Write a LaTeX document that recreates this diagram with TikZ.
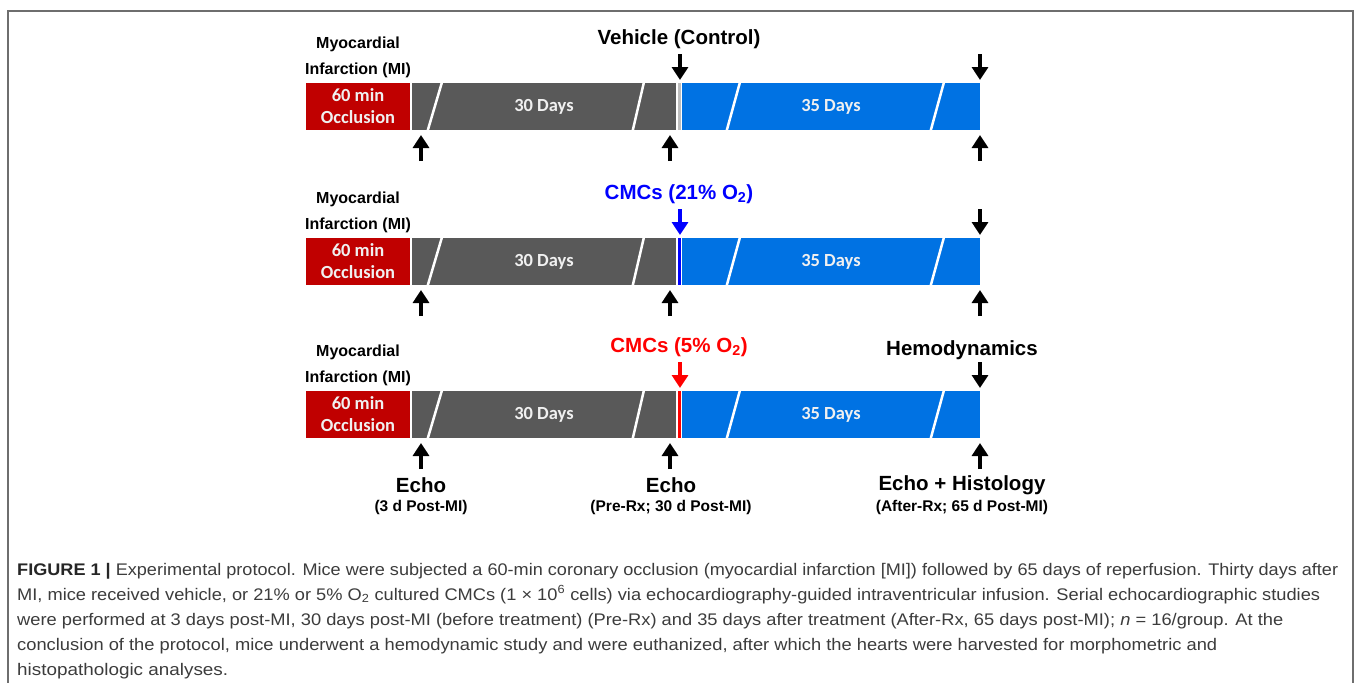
\documentclass[tikz,border=0pt]{standalone}
\usepackage{fontspec}
\usepackage{graphicx}
\setmainfont{Liberation Sans}
\newfontfamily\calfont{Carlito}
\usetikzlibrary{arrows.meta,calc}
\definecolor{mired}{RGB}{192,0,0}
\definecolor{bargray}{RGB}{89,89,89}
\definecolor{barblue}{RGB}{0,114,227}
\definecolor{capgray}{RGB}{60,60,60}
\definecolor{framegray}{RGB}{110,110,110}
\definecolor{stripegray}{RGB}{190,190,190}
\definecolor{cmcblue}{RGB}{0,0,255}
\definecolor{cmcred}{RGB}{255,0,0}
\tikzset{
  lbl/.style={font=\bfseries\fontsize{16}{16}\selectfont, inner sep=0pt},
  biglbl/.style={font=\bfseries\fontsize{20.5}{20.5}\selectfont, inner sep=0pt},
  sublbl/.style={font=\bfseries\fontsize{15.5}{15.5}\selectfont, inner sep=0pt},
  bartxt/.style={font=\calfont\bfseries\fontsize{18.5}{22}\selectfont, text=white!94!black, inner sep=0pt, align=center, minimum height=47pt},
  occbox/.style={bartxt, fill=mired, minimum width=104pt},
  graybar/.style={bartxt, fill=bargray, minimum width=264pt},
  bluebar/.style={bartxt, fill=barblue, minimum width=298pt},
  stripebox/.style={inner sep=0pt, minimum width=3pt, minimum height=47pt},
  slash/.style={white, line width=2.5pt},
  arr/.style={line width=3.6pt, -{Triangle[width=16pt,length=13pt]}},
  capline/.style={anchor=base west, inner sep=0pt, text=capgray, font=\fontsize{16.8}{16.8}\selectfont},
}
\newcommand\protorow[5]{%
  \node[occbox]  (occ#1)   at (358,{#2+23.5}) {60 min\\Occlusion};
  \node[graybar] (gray#1)  at (544,{#2+23.5}) {30 Days};
  \node[stripebox, fill=#3] (strp#1) at (679,{#2+23.5}) {};
  \node[bluebar] (blue#1)  at (831,{#2+23.5}) {35 Days};
  \draw[slash] ($(gray#1.south west)+(16,0)$) -- ($(gray#1.north west)+(30,0)$);
  \draw[slash] ($(gray#1.south west)+(221,0)$) -- ($(gray#1.north west)+(232,0)$);
  \draw[slash] ($(blue#1.south west)+(45,0)$) -- ($(blue#1.north west)+(58,0)$);
  \draw[slash] ($(blue#1.south west)+(249,0)$) -- ($(blue#1.north west)+(262,0)$);
  \node[lbl] (myo#1) at (358,{#2-39}) {Myocardial};
  \node[lbl] (inf#1) at (358,{#2-13}) {Infarction (MI)};
  \node[biglbl, text=#5] (top#1) at (679,{#2-44}) {#4};
  \coordinate (dA#1) at (680,{#2-29});
  \coordinate (dB#1) at (980,{#2-29});
  \draw[arr, draw=#5, fill=#5] (dA#1) -- ++(0,26);
  \draw[arr] (dB#1) -- ++(0,26);
  \coordinate (uA#1) at (421,{#2+78});
  \coordinate (uB#1) at (670,{#2+78});
  \coordinate (uC#1) at (980,{#2+78});
  \draw[arr] (uA#1) -- ++(0,-26);
  \draw[arr] (uB#1) -- ++(0,-26);
  \draw[arr] (uC#1) -- ++(0,-26);
}
\begin{document}
\begin{tikzpicture}[x=1pt,y=-1pt]
\useasboundingbox (0,0) rectangle (1358,683);
\fill[white] (0,0) rectangle (1358,683);
\draw[framegray, line width=1.6pt] (8,700) -- (8,11) -- (1353,11) -- (1353,700);

\protorow{1}{83}{stripegray}{Vehicle (Control)}{black}
\protorow{2}{238}{cmcblue}{CMCs (21\% O\textsubscript{2})}{cmcblue}
\protorow{3}{391}{cmcred}{CMCs (5\% O\textsubscript{2})}{cmcred}

\node[biglbl] (hemo) at (962,350) {Hemodynamics};
\node[biglbl] (echo1) at (421,485) {Echo};
\node[sublbl] (sub1) at (421,507) {(3 d Post-MI)};
\node[biglbl] (echo2) at (671,485) {Echo};
\node[sublbl] (sub2) at (671,507) {(Pre-Rx; 30 d Post-MI)};
\node[biglbl] (echo3) at (962,485) {Echo + Histology};
\node[sublbl] (sub3) at (962,507) {(After-Rx; 65 d Post-MI)};

\node[capline] (cap1) at (17,575) {\resizebox{1321pt}{\height}{\textbf{\color{black!85}FIGURE 1 |} Experimental protocol. Mice were subjected a 60-min coronary occlusion (myocardial infarction [MI]) followed by 65 days of reperfusion. Thirty days after}};
\node[capline] (cap2) at (17,600) {\resizebox{1303pt}{\height}{MI, mice received vehicle, or 21\% or 5\% O\textsubscript{2} cultured CMCs (1 × 10\textsuperscript{6} cells) via echocardiography-guided intraventricular infusion. Serial echocardiographic studies}};
\node[capline] (cap3) at (17,625) {\resizebox{1266pt}{\height}{were performed at 3 days post-MI, 30 days post-MI (before treatment) (Pre-Rx) and 35 days after treatment (After-Rx, 65 days post-MI); \textit{n} = 16/group. At the}};
\node[capline] (cap4) at (17,650) {\resizebox{1200pt}{\height}{conclusion of the protocol, mice underwent a hemodynamic study and were euthanized, after which the hearts were harvested for morphometric and}};
\node[capline] (cap5) at (17,675) {\resizebox{211pt}{\height}{histopathologic analyses.}};
\end{tikzpicture}
\end{document}
